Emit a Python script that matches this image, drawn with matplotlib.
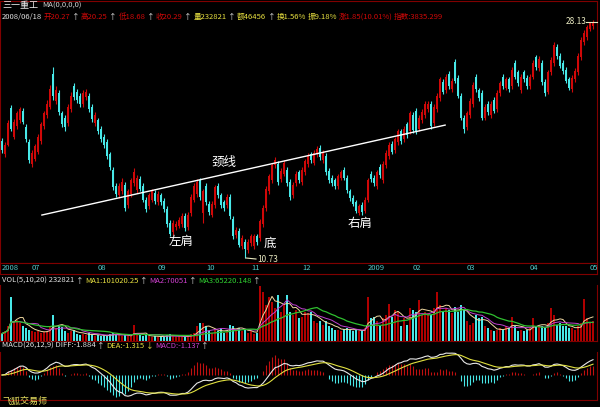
import numpy as np
import pandas as pd
import matplotlib
matplotlib.use("Agg")
import matplotlib.pyplot as plt

plt.rcParams['font.family'] = ['Noto Sans CJK SC', 'DejaVu Sans']

# daily candles, 2008/06/18 .. 2009/05
opens = [19.3, 18.3, 19.0, 21.7, 19.6, 20.4, 20.8, 21.5, 20.3, 19.2,
         17.6, 18.0, 18.5, 19.3, 20.4, 21.2, 21.8, 24.2, 22.2, 22.8,
         21.3, 21.0, 20.6, 21.6, 23.3, 22.9, 22.6, 22.0, 22.5, 22.6,
         21.8, 20.6, 20.8, 20.2, 19.6, 19.2, 18.3, 17.2, 16.0, 15.3,
         15.6, 16.1, 14.6, 15.4, 16.2, 15.7, 16.5, 16.0, 15.0, 14.5,
         15.0, 15.5, 14.8, 15.3, 14.9, 14.3, 13.3, 12.6, 13.0, 13.1,
         13.2, 13.8, 13.0, 14.0, 15.0, 15.4, 16.4, 14.0, 16.0, 14.7,
         13.9, 14.6, 16.0, 15.3, 14.8, 14.6, 15.2, 13.6, 12.4, 12.7,
         11.6, 11.9, 11.3, 11.8, 11.6, 12.3, 12.2, 13.2, 14.4, 15.6,
         16.4, 17.5, 17.6, 16.5, 16.9, 17.2, 16.3, 15.3, 16.2, 17.0,
         16.3, 17.0, 17.6, 18.3, 17.7, 18.3, 18.8, 17.9, 18.2, 17.1,
         16.6, 16.4, 16.0, 16.6, 17.2, 16.6, 15.6, 15.1, 14.8, 14.0,
         14.6, 14.2, 15.0, 16.9, 16.6, 16.0, 17.4, 16.4, 17.5, 18.2,
         19.1, 18.6, 19.2, 20.0, 19.4, 20.5, 20.0, 21.2, 21.5, 20.2,
         20.8, 21.2, 21.6, 22.0, 20.6, 21.6, 22.4, 23.6, 23.0, 24.2,
         23.1, 25.1, 23.9, 22.6, 21.0, 20.3, 21.2, 22.0, 24.0, 23.0,
         22.8, 21.0, 22.0, 21.2, 22.3, 21.6, 22.8, 24.0, 23.2, 23.8,
         23.3, 25.0, 24.3, 23.0, 24.3, 23.9, 23.3, 24.0, 25.4, 24.6,
         25.0, 23.6, 22.9, 24.3, 25.0, 26.2, 25.5, 25.0, 24.5, 23.8,
         23.1, 23.8, 24.3, 25.4, 26.5, 26.9, 27.5, 27.7]
closes = [18.6, 19.0, 20.6, 20.2, 20.7, 21.3, 21.6, 20.7, 19.4, 17.9,
          18.4, 18.9, 19.6, 20.5, 21.3, 22.0, 23.1, 22.6, 23.0, 21.4,
          20.5, 20.3, 21.8, 22.6, 22.5, 22.3, 22.0, 22.8, 22.9, 21.6,
          20.9, 21.2, 20.0, 19.4, 19.0, 18.2, 17.4, 15.9, 15.4, 16.0,
          16.3, 14.4, 15.6, 16.4, 17.0, 16.6, 15.8, 15.0, 14.3, 15.3,
          15.6, 14.9, 15.4, 14.8, 14.3, 13.2, 12.5, 13.3, 13.2, 13.5,
          13.8, 12.9, 13.9, 15.2, 16.0, 16.3, 15.2, 15.6, 14.8, 14.1,
          14.7, 15.9, 15.3, 14.6, 14.4, 15.2, 13.8, 12.3, 12.8, 11.7,
          12.2, 11.4, 11.9, 12.3, 12.3, 11.9, 13.4, 14.4, 15.8, 16.7,
          17.5, 17.9, 16.3, 17.1, 17.7, 16.2, 15.2, 16.1, 16.9, 16.4,
          17.2, 17.8, 18.2, 17.9, 18.4, 18.7, 18.1, 18.4, 17.0, 16.4,
          16.2, 16.0, 16.7, 17.0, 16.6, 15.7, 15.1, 14.7, 14.2, 14.5,
          14.1, 15.0, 16.4, 16.5, 16.2, 17.0, 16.8, 17.6, 18.4, 19.0,
          18.5, 19.4, 20.0, 19.3, 20.2, 19.7, 21.3, 20.1, 20.0, 21.0,
          21.4, 22.0, 22.0, 20.4, 21.8, 22.6, 23.8, 22.9, 24.0, 23.3,
          23.7, 23.7, 22.6, 21.0, 20.2, 21.3, 22.2, 23.4, 23.1, 22.4,
          21.0, 21.8, 21.4, 22.0, 21.5, 22.8, 23.5, 23.3, 23.8, 23.1,
          24.5, 24.0, 23.5, 24.0, 23.8, 23.3, 24.0, 25.0, 24.7, 25.3,
          23.6, 22.8, 24.3, 25.2, 26.3, 25.5, 24.8, 24.4, 23.7, 23.2,
          23.9, 24.4, 25.5, 26.7, 27.2, 27.6, 27.9, 28.0]
highs = [19.5, 19.2, 20.8, 21.9, 20.9, 21.5, 21.8, 21.7, 20.5, 19.4,
         18.6, 19.1, 19.8, 20.7, 21.5, 22.3, 23.4, 24.7, 23.3, 23.0,
         21.5, 21.2, 22.0, 22.9, 23.5, 23.1, 22.8, 23.0, 23.1, 22.8,
         22.0, 21.4, 21.0, 20.4, 19.8, 19.4, 18.5, 17.4, 16.2, 16.2,
         16.6, 16.3, 15.8, 16.6, 17.3, 16.8, 16.7, 16.2, 15.2, 15.5,
         15.8, 15.7, 15.6, 15.5, 15.1, 14.5, 13.5, 13.5, 13.4, 13.7,
         14.0, 14.0, 14.1, 15.4, 16.2, 16.5, 16.6, 15.8, 16.2, 14.9,
         14.9, 16.1, 16.2, 15.5, 15.0, 15.4, 15.4, 13.8, 13.0, 12.9,
         12.4, 12.1, 12.1, 12.5, 12.5, 12.5, 13.6, 14.6, 16.0, 16.9,
         17.7, 18.1, 17.8, 17.3, 17.9, 17.4, 16.5, 16.3, 17.1, 17.2,
         17.4, 18.0, 18.4, 18.5, 18.6, 18.9, 19.0, 18.6, 18.4, 17.3,
         16.8, 16.6, 16.9, 17.2, 17.4, 16.8, 15.8, 15.3, 15.0, 14.7,
         14.8, 15.2, 16.6, 17.1, 16.8, 17.2, 17.6, 17.8, 18.6, 19.2,
         19.3, 19.6, 20.2, 20.2, 20.4, 20.7, 21.5, 21.4, 21.7, 21.2,
         21.6, 22.2, 22.2, 22.2, 22.0, 22.8, 24.0, 23.8, 24.2, 24.4,
         23.9, 25.3, 24.1, 22.8, 21.2, 21.5, 22.4, 23.6, 24.2, 23.2,
         23.0, 22.0, 22.2, 22.2, 22.5, 23.0, 23.7, 24.2, 24.0, 24.0,
         24.7, 25.2, 24.5, 24.2, 24.5, 24.1, 24.2, 25.2, 25.6, 25.5,
         25.2, 23.8, 24.5, 25.4, 26.5, 26.4, 25.7, 25.2, 24.7, 24.0,
         24.1, 24.6, 25.7, 26.9, 27.4, 27.8, 28.0, 28.13]
lows = [18.4, 18.1, 18.9, 20.0, 19.4, 20.2, 20.6, 20.5, 19.2, 17.7,
        17.4, 17.8, 18.3, 19.1, 20.2, 21.0, 21.6, 22.3, 22.0, 21.2,
        20.3, 20.0, 20.4, 21.4, 22.3, 22.1, 21.8, 21.8, 22.3, 21.4,
        20.7, 20.4, 19.8, 19.2, 18.8, 18.0, 17.2, 15.7, 15.2, 15.1,
        15.4, 14.2, 14.4, 15.2, 16.0, 15.5, 15.6, 14.8, 14.1, 14.3,
        14.8, 14.7, 14.6, 14.6, 14.1, 13.0, 12.3, 12.4, 12.8, 12.9,
        13.0, 12.7, 12.8, 13.8, 14.8, 15.2, 15.0, 13.3, 14.6, 13.9,
        13.7, 14.4, 15.1, 14.4, 14.2, 14.4, 13.6, 12.1, 12.2, 11.5,
        11.4, 10.73, 11.1, 11.6, 11.4, 11.7, 12.0, 13.0, 14.2, 15.4,
        16.2, 17.3, 16.1, 16.3, 16.7, 16.0, 15.0, 15.1, 16.0, 16.2,
        16.1, 16.8, 17.4, 17.7, 17.5, 18.1, 17.9, 17.7, 16.8, 16.2,
        16.0, 15.8, 15.8, 16.4, 16.4, 15.5, 14.9, 14.5, 14.0, 13.9,
        13.9, 14.0, 14.8, 16.3, 16.0, 15.8, 16.6, 16.2, 17.3, 18.0,
        18.3, 18.4, 19.0, 19.1, 19.2, 19.5, 19.8, 19.9, 19.8, 20.0,
        20.6, 21.0, 21.4, 20.2, 20.4, 21.4, 22.2, 22.7, 22.8, 23.1,
        22.9, 23.5, 22.4, 20.8, 19.9, 20.1, 21.0, 21.8, 22.9, 22.2,
        20.8, 20.8, 21.2, 21.0, 21.3, 21.4, 22.6, 23.1, 23.0, 22.9,
        23.1, 23.8, 23.3, 22.8, 23.6, 23.1, 23.1, 23.8, 24.5, 24.4,
        23.4, 22.6, 22.7, 24.1, 24.8, 25.3, 24.6, 24.2, 23.5, 23.0,
        22.9, 23.6, 24.1, 25.2, 26.3, 26.7, 27.3, 27.5]
# volume, in 10k shares
volumes = [23, 30, 45, 135, 60, 65, 55, 45, 40, 35,
           30, 28, 30, 25, 28, 32, 45, 80, 40, 45,
           42, 30, 25, 30, 35, 22, 18, 20, 18, 25,
           20, 15, 18, 15, 18, 16, 20, 25, 22, 18,
           15, 18, 15, 14, 50, 20, 18, 16, 18, 14,
           12, 15, 13, 15, 14, 18, 20, 16, 12, 14,
           12, 15, 16, 20, 25, 45, 55, 55, 45, 30,
           25, 35, 30, 40, 25, 30, 50, 45, 35, 40,
           30, 35, 25, 30, 20, 25, 170, 150, 110, 135,
           120, 100, 140, 90, 110, 140, 90, 80, 95, 70,
           75, 90, 85, 90, 60, 55, 60, 50, 60, 45,
           40, 35, 35, 30, 38, 40, 35, 30, 35, 30,
           30, 40, 135, 70, 75, 60, 45, 70, 80, 115,
           75, 95, 90, 45, 70, 50, 100, 95, 90, 125,
           80, 90, 85, 80, 100, 150, 110, 90, 100, 95,
           85, 105, 90, 110, 95, 60, 50, 55, 80, 70,
           75, 45, 40, 35, 30, 35, 40, 35, 45, 40,
           75, 45, 30, 35, 30, 35, 40, 70, 45, 50,
           45, 40, 55, 100, 80, 50, 55, 45, 45, 40,
           40, 35, 45, 55, 130, 70, 55, 60]

month_pos = [0, 10, 32, 52, 68, 83, 100, 122, 137, 155, 176, 196]
month_labels = ["2008", "07", "08", "09", "10", "11", "12", "2009", "02", "03", "04", "05"]

# neckline drawn on the chart (candle index, price)
neck_x = [13.3, 147.7]
neck_y = [13.87, 20.45]

W, H = 600, 407
RED = "#d00808"
CYAN = "#48e8e8"
GRID = "#800000"

o = np.array(opens)
c = np.array(closes)
hi = np.array(highs)
lo = np.array(lows)
vol = np.array(volumes, dtype=float)
idx = np.arange(len(c))
up = c >= o
colors = np.where(up, RED, CYAN)

fig = plt.figure(figsize=(6, 4.07), dpi=100, facecolor="black")


def rect(x0, y0, x1, y1):
    return [x0 / W, 1 - y1 / H, (x1 - x0) / W, (y1 - y0) / H]


def setup(ax):
    ax.set_facecolor("black")
    ax.set_xlim(-0.667, 198.33)
    ax.set_xticks([])
    ax.set_yticks([])
    for s in ax.spines.values():
        s.set_color(GRID)
        s.set_linewidth(0.8)


def ftext(x, y, s, color, size=6, **kw):
    return fig.text(x / W, 1 - y / H, s, color=color, fontsize=size, va="center", **kw)


def text_row(x, y, parts, size=5.5):
    r = fig.canvas.get_renderer()
    for s, col in parts:
        t = ftext(x, y, s, col, size)
        x += t.get_window_extent(renderer=r).width + 1.5


# main candles
ax = fig.add_axes(rect(0, 1, 597, 263))
setup(ax)
ax.set_ylim(10.36, 29.53)
ax.vlines(idx, lo, hi, colors=colors, lw=0.8)
ax.bar(idx, np.maximum(np.abs(c - o), 0.06), bottom=np.minimum(o, c), width=0.72, color=colors)
ax.plot(neck_x, neck_y, color="white", lw=1.0)

# date row
axd = fig.add_axes(rect(0, 263, 597, 274))
setup(axd)
for p, lab in zip(month_pos, month_labels):
    axd.text(p, 0.5, lab, color="#50c8c8", fontsize=5.5, va="center", ha="left",
             transform=axd.get_xaxis_transform())

# volume
axv = fig.add_axes(rect(0, 285, 597, 341))
setup(axv)
axv.set_ylim(0, 172)
axv.spines["top"].set_visible(False)
vcol = np.where(up, "#b00000", CYAN)
axv.bar(idx, vol, width=0.7, color=vcol)
vs = pd.Series(vol)
axv.plot(idx, vs.rolling(5, min_periods=1).mean(), color="#f0d8a0", lw=0.7)
axv.plot(idx, vs.rolling(10, min_periods=1).mean(), color="#c040d0", lw=0.7)
axv.plot(idx, vs.rolling(20, min_periods=1).mean(), color="#30c030", lw=0.9)

# MACD
cs = pd.Series(c)
diff = cs.ewm(span=12, adjust=False).mean() - cs.ewm(span=26, adjust=False).mean()
dea = diff.ewm(span=9, adjust=False).mean()
macd = 2 * (diff - dea)
axm = fig.add_axes(rect(0, 352, 597, 400))
setup(axm)
axm.spines["top"].set_visible(False)
amp = 1.05 * max(diff.abs().max(), dea.abs().max())
axm.set_ylim(-amp * 25 / 23, amp)
axm.vlines(idx, 0, macd, colors=np.where(macd >= 0, "#c01010", CYAN), lw=0.8)
axm.plot(idx, diff, color="#e8e8e8", lw=0.8)
axm.plot(idx, dea, color="#e0e040", lw=0.8)

# header lines
ftext(2, 6, "三一重工", "#f0f0f0", 6.5)
ftext(42, 6, "MA(0,0,0,0)", "#d0d0d0", 5.5)
text_row(2, 17, [("2008/06/18", "#e0e0e0"), ("开20.27", RED), ("↑", "#e0e0e0"),
                 ("高20.25", RED), ("↑", "#e0e0e0"), ("低18.68", RED), ("↑", "#e0e0e0"),
                 ("收20.29", RED), ("↑", "#e0e0e0"), ("量232821", "#e8e040"), ("↑", "#e0e0e0"),
                 ("额46456", "#e8e040"), ("↑", "#e0e0e0"), ("换1.56%", "#e8e040"),
                 ("振9.18%", "#e8e040"), ("涨1.85(10.01%)", RED), ("指数:3835.299", RED)])
text_row(2, 281, [("VOL(5,10,20) 232821", "#e0e0e0"), ("↑", "#e0e0e0"),
                  ("MA1:101020.25", "#e8e040"), ("↑", "#e0e0e0"),
                  ("MA2:70051", "#d040d0"), ("↑", "#e0e0e0"),
                  ("MA3:65220.148", "#30d030"), ("↑", "#e0e0e0")])
text_row(2, 346, [("MACD(26,12,9) DIFF:-1.884", "#e0e0e0"), ("↑", "#e0e0e0"),
                  ("DEA:-1.315", "#e8e040"), ("↓", "#e8e040"),
                  ("MACD:-1.137", "#d040d0"), ("↑", "#e0e0e0")])
ftext(2, 401, "飞狐交易师", "#e8e060", 6.5)

# annotations on price chart
ftext(212, 163, "颈线", "white", 9)
ftext(169, 242, "左肩", "white", 9)
ftext(264, 243, "底", "white", 9)
ftext(348, 223, "右肩", "white", 9)
ftext(566, 21, "28.13", "#e8e8c0", 6)
fig.add_artist(plt.Line2D([586 / W, 597 / W], [1 - 22 / H, 1 - 22 / H], color="#e8e8c0", lw=0.8))
ftext(257, 260, "10.73", "#e8e8c0", 6)
fig.add_artist(plt.Line2D([246 / W, 256 / W], [1 - 258 / H, 1 - 259 / H], color="#e8e8c0", lw=0.8))

fig.savefig("out.png", dpi=100, facecolor="black")
